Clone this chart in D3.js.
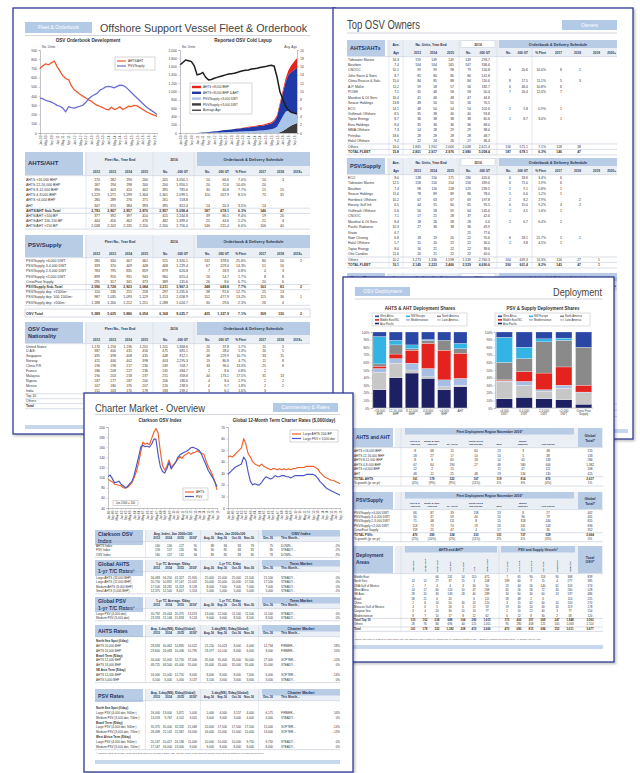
<!DOCTYPE html>
<html>
<head>
<meta charset="utf-8">
<script src="https://d3js.org/d3.v7.min.js"></script>
<style>
body { margin: 0; background: #fff; }
svg { display: block; }
</style>
</head>
<body>
<script>
// ---------- Fleet & Orderbook page ----------
var obMonths = ["Jan","Mar","May","Jul","Sep","Nov"];
var obYears = ["10","11","12","13","14","15","16"];
var obAhts = [700,730,750,740,760,780,720,670,620,590,580,510,470,445,420,400,380,360,345,320,300,290,275,260,250,280,255,265,285,255,270,290,285,300,295,275,255,235,220,205,195,180];
var obPsv = [380,370,355,345,335,320,300,290,270,230,285,275,270,280,290,300,330,370,395,415,430,465,480,500,505,500,490,505,520,515,500,470,440,410,380,350,320,290,265,245,225,200];
var layAge = [16.4,17.0,17.6,17.4,17.2,16.2,14.0,14.2,14.6,13.4,12.8,12.9,13.2,13.4,13.6,13.8,14.0,14.2,14.3,14.4,14.6,14.8,15.0,15.1,15.2,15.4,15.5,15.6,15.8,15.9,16.0,16.2,16.3,16.1,13.5,10.0,8.2,6.5,5.5,5.0,4.8,4.6];
var layPsvSmall = [0,0,0,0,0,0,0,0,0,0,0,0,0,0,0,0,0,0,0,0,0,0,0,0,0,0,0,0,0,0,0,0,0,0,0,20,50,90,140,180,210,240];
var layPsvLarge = [0,0,0,0,0,0,0,0,0,0,5,8,10,12,15,18,20,22,25,28,32,35,38,40,45,48,50,55,58,62,70,80,90,110,150,250,350,420,400,330,270,240];
var layAhtsSmall = [0,0,0,0,0,0,0,5,10,15,20,24,30,33,40,46,50,54,60,66,70,74,80,86,90,94,100,106,110,114,120,130,140,170,240,400,560,720,860,960,1040,1090];
var layAhtsLarge = [0,0,0,0,0,0,0,0,0,0,0,0,0,0,0,0,0,0,0,0,5,8,10,12,14,16,18,20,22,24,25,30,30,35,40,50,60,80,110,160,200,230];
var laySeries = ["PSV/Supply <3,000 DWT","PSV/Supply >3,000 DWT","AHTS <8,000 BHP & AHT","AHTS >8,000 BHP"];

var fleetSubs = ["2012","2013","2014","2015","No.",".000 GT","No.",".000 GT","% Fleet","2017","2018","2019+"];
var fleetAhtsRows = [
  ["AHTS >16,000 BHP","170 182 190 200 205 3,050.1 10 66.6 7.0% 10 3"],
  ["AHTS 12-16,000 BHP","187 194 198 200 200 1,950.5 20 72.6 10.0% 20"],
  ["AHTS 8-12,000 BHP","390 403 410 402 395 785.6 30 30.8 7.7% 15 15"],
  ["AHTS 4-8,000 BHP","1,219 1,271 1,299 1,304 1,301 2,099.5 110 207.9 8.5% 75 35"],
  ["AHTS <4,000 BHP","280 289 276 271 261 158.8"],
  ["AHT","347 370 384 393 395 822.4 14 20.3 3.5% 14"],
  ["AHTS/AHT Sub-Total","2,793 2,907 2,957 2,970 2,957 5,058.4 187 678.1 6.3% 146 47","b"],
  ["AHTS/AHT <100 BP","377 392 397 410 415 1,244.8 39 86.1 9.4% 19 20","l"],
  ["AHTS/AHT 100-150 BP","444 456 462 476 482 1,399.0 25 44.6 5.2% 21 4"],
  ["AHTS/AHT >150 BP","2,038 2,102 2,135 2,150 2,200 2,756.0 146 215.4 6.6% 106 40"]
];
var fleetPsvRows = [
  ["PSV/Supply >4,000 DWT","280 330 407 461 515 1,320.1 132 378.6 25.6% 80 50 2"],
  ["PSV/Supply 3-4,000 DWT","339 370 409 448 468 1,229.4 67 229.0 14.3% 51 16"],
  ["PSV/Supply 2-3,000 DWT","783 795 835 859 879 626.8 7 18.9 0.8% 4 3"],
  ["PSV/Supply <2,000 DWT","899 916 931 943 960 655.4 16 14.7 1.7% 8 8"],
  ["Crew/Fast Supply","295 317 341 373 389 135.6 26 8.6 6.7% 20 6"],
  ["PSV/Supply Sub-Total","2,596 2,728 2,923 3,084 3,211 3,967.3 248 649.8 7.7% 163 83 2","b"],
  ["PSV/Supply dep. >1500m²","110 136 215 258 297 1,235.6 38 91.6 12.7% 25 13 _","l"],
  ["PSV/Supply dep. 500-1500m²","987 1,035 1,093 1,129 1,153 2,058.9 152 477.9 13.2% 115 36 1"],
  ["PSV/Supply dep. <500m²","1,188 1,200 1,212 1,251 1,288 1,024.7 30 29.6 2.3% 26 4"]
];
var osvTotalRow = ["OSV Total","5,389 5,635 5,880 6,054 6,168 9,025.7 435 1,327.9 7.1% 309 130 2"];
var nationRows = [
  ["United States","1,170 1,194 1,196 1,201 1,201 1,868.6 20 37.8 1.7% 15 5"],
  ["U.A.E.","387 400 431 456 475 681.1 25 28.0 5.3% 20 5"],
  ["Singapore","395 398 408 435 448 812.1 48 229.9 10.7% 33 15"],
  ["Norway","411 406 402 398 403 2,295.3 19 80.8 4.7% 11 8"],
  ["China P.R.","196 198 217 230 249 558.7 33 96.0 13.3% 25 8"],
  ["France","186 208 227 236 245 484.7 2 8.6 0.8% 2"],
  ["Malaysia","190 203 218 237 251 358.8 44 173.1 17.5% 31 13"],
  ["Nigeria","187 177 187 200 206 186.6 4 8.0 1.9% 2 2"],
  ["Mexico","167 180 195 207 220 238.9 4 9.7 1.8% 2 2"],
  ["India","151 163 170 178 183 239.2 3 6.1 1.6% 3"],
  ["Top 10","3,440 3,527 3,651 3,778 3,881 7,724.0 202 677.6 5.2% 144 58","l"],
  ["Others","1,949 2,108 2,229 2,276 2,287 1,301.7 233 650.3 10.2% 165 68 2","l"],
  ["Total","5,389 5,635 5,880 6,054 6,168 9,025.7 435 1,327.9 7.1% 309 130 2","b"]
];

// ---------- Top OSV Owners page ----------
var ownerSubs = ["Age","2013","2014","2015","No.",".000 GT","No.",".000 GT","% Fleet","2017","2018","2019","2020+"];
var ownersAhtsRows = [
  ["Tidewater Marine","16.3 159 149 149 149 293.7"],
  ["Bourbon","7.4 164 164 165 167 336.6"],
  ["CNOOC","10.1 99 99 98 79 150.8 8 20.6 10.0% 8 1"],
  ["John Swire & Sons","8.7 81 80 80 80 141.8"],
  ["China Rescue & Salv.","15.0 84 85 88 84 116.6 8 17.5 11.1% 5 3"],
  ["A.P. Moller","11.2 59 58 57 56 182.7 6 46.0 10.8% 6"],
  ["POSH","7.1 45 48 58 58 50.4 7 16.4 12.0% 7"],
  ["Maridive & Oil Serv.","16.4 41 46 48 47 44.8"],
  ["Seacor Holdings","13.8 48 50 55 56 70.5"],
  ["ECO","14.1 48 50 54 54 102.6 1 5.8 0.9% 1"],
  ["Gulfmark Offshore","8.5 35 38 40 40 93.8"],
  ["Topaz Energy","8.7 36 38 38 38 60.6 1 8.7 3.0% 1"],
  ["Ezra Holdings","8.4 35 36 36 36 68.0"],
  ["MMA Offshore","7.3 14 28 29 29 38.0"],
  ["Petrofac","18.6 28 28 28 28 48.7"],
  ["Halul Offshore","9.2 22 24 26 27 36.4"],
  ["Others","16.0 1,845 1,952 2,000 2,048 2,621.4 156 571.1 7.1% 118 38","l"],
  ["TOTAL FLEET","15.8 2,801 2,917 2,976 2,980 5,058.4 187 678.1 6.3% 146 47","b"]
];
var ownersPsvRows = [
  ["ECO","8.0 138 150 171 180 420.6 6 18.6 3.4% 6"],
  ["Tidewater Marine","12.5 158 150 154 156 339.0 6 71.0 1.9% 6"],
  ["Bourbon","7.4 98 116 128 129 239.5 1 9.1 0.8% 1"],
  ["Seacor Holdings","11.6 78 89 89 86 78.0 1 6.0 1.2% 1"],
  ["Hornbeck Offshore","10.2 67 63 67 69 197.8 2 8.2 2.9% _ 2"],
  ["Harvey Gulf Intl","6.5 44 55 60 65 95.5 6 15.0 9.2% 4 2"],
  ["Gulfmark Offshore","6.6 56 58 59 64 145.6 1 4.5 1.6% 1"],
  ["CNOOC","7.1 17 21 28 37 42.6"],
  ["Maridive & Oil Serv.","8.4 18 26 28 28 6.6 2 6.7 6.4% 2"],
  ["Pacific Radiance","10.3 27 36 38 36 49.9"],
  ["Vroon","6.7 _ _ _ 25 77.6"],
  ["Nam Cheong","6.8 18 19 20 22 70.6 6 18.1 21.7% 5 1"],
  ["Halul Offshore","5.7 15 20 22 22 30.0 1 3.8 4.5% 1"],
  ["Topaz Energy","8.0 16 21 22 22 38.6"],
  ["Otto Candies","11.6 20 21 22 22 40.0"],
  ["Others","10.2 1,273 1,336 1,598 1,539 2,760.3 164 449.3 11.3% 116 27 1","l"],
  ["TOTAL FLEET","10.1 2,145 2,223 2,466 2,529 4,690.6 200 601.4 8.2% 143 47 1","b"]
];
var ownersCrewRows = [
  ["Tidewater Marine","9.1 30 32 33 33 12.5"],
  ["Bourbon","6.2 68 70 72 73 18.2"],
  ["Seacor Marine","8.4 45 47 49 50 12.6"],
  ["Edison Chouest","6.5 34 36 38 40 10.9"],
  ["CNOOC","9.7 20 22 24 26 6.0"],
  ["Halul Offshore","4.5 18 19 21 22 5.5"],
  ["Alpha Marine","7.3 14 16 18 20 4.8"],
  ["Ezra Holdings","6.1 12 14 16 17 4.3"],
  ["Nam Cheong","5.0 10 12 14 15 3.9"],
  ["Atlantic Offshore","9.9 11 11 12 13 3.1"],
  ["Otto Candies","12.0 10 11 11 12 2.9"],
  ["Hornbeck Offshore","11.1 9 10 10 11 2.8"],
  ["POSH","5.6 8 9 10 11 2.7"],
  ["ECO","8.8 9 9 10 10 2.6"],
  ["Harvey Gulf Intl","4.2 6 7 8 9 2.2"],
  ["Maridive & Oil Serv.","10.4 8 8 9 9 2.1"],
  ["Gulfmark Offshore","7.7 7 7 8 8 1.9"],
  ["Topaz Energy","6.9 6 7 7 8 1.8"],
  ["Others","9.4 110 121 133 141 35.2","l"],
  ["TOTAL FLEET","8.6 461 487 521 549 152.8","b"]
];

// ---------- Deployment page ----------
var depKeys = ["Asia Pacific","Latin America","Mediterranean","Middle East/ISC","North America","NW Europe","West Africa"];
var depColors = ["#1d2163","#c7c7c7","#a7bde3","#e5231e","#8a8a8a","#33b4e5","#2b47a5"];
var depLegend = ["West Africa","NW Europe","North America","Middle East/ISC","Mediterranean","Latin America","Asia Pacific"];
var ahtsCats = [">16,000\nBHP","12-16,000\nBHP","8-12,000\nBHP","4-8,000\nBHP","<4,000\nBHP","AHT"];
var ahtsDepAsia = [24,40,46,39,24,28];
var ahtsDepLatAm = [23,19,4,2,4,2];
var ahtsDepMed = [5,6,9,11,9,9];
var ahtsDepMidEast = [3,6,17,33,39,33];
var ahtsDepNAm = [3,12,2,4,13,6];
var ahtsDepNwEur = [36,6,5,1,0,7];
var ahtsDepWAfr = [6,11,17,10,11,15];
var psvCats = [">4,000\nDWT","3-4,000\nDWT","2-3,000\nDWT","<2,000\nDWT","Crew/ Fast\nSupply"];
var psvDepAsia = [12,14,12,11,5];
var psvDepLatAm = [23,16,10,15,15];
var psvDepMed = [1,5,2,4,1];
var psvDepMidEast = [1,13,22,24,9];
var psvDepNAm = [23,17,41,35,50];
var psvDepNwEur = [33,15,4,3,0];
var psvDepWAfr = [7,20,9,8,20];

var regionSubs = ["Gulf & N.\nAmerica","Brazil & S&C\nAmerica","W. Africa","North Sea &\nNW Europe","Med","Middle\nEast/ISC","Asia Pacific",""];
var ahtsDepRows = [
  ["AHTS >16,000 BHP","8 68 15 60 13 3 48 215"],
  ["AHTS 12-16,000 BHP","18 27 17 14 14 5 38 133"],
  ["AHTS 8-12,000 BHP","8 6 60 18 14 45 133 284"],
  ["AHTS 4-8,000 BHP","67 64 190 27 48 580 406 1,382"],
  ["AHTS <4,000 BHP","12 2 15 _ 11 47 121 208"],
  ["AHT","48 11 25 48 19 134 130 415"],
  ["TOTAL AHTS","161 178 322 167 119 814 876 2,637","b"],
  ["% growth (yr on yr)","(4%) (9%) (9%) (11%) 1% 6% (4%) 1%"]
];
var psvDepRows = [
  ["PSV/Supply >4,000 DWT","66 87 33 158 23 8 27 402"],
  ["PSV/Supply 3-4,000 DWT","56 47 59 44 20 96 79 401"],
  ["PSV/Supply 2-3,000 DWT","71 48 111 8 15 318 244 815"],
  ["PSV/Supply <2,000 DWT","118 73 74 19 26 241 143 694"],
  ["Crew/Fast Supply","159 25 47 4 17 64 36 352"],
  ["TOTAL PSVs","470 280 324 233 101 727 529 2,664","b"],
  ["% growth (yr on yr)","(2%) (10%) (2%) (11%) 2% 1% (3%) 0%"]
];
var areaSubs = [">16k BHP","12-16k BHP","8-12k BHP","4-8k BHP","<4k BHP","AHT","Total AHTS",">4k DWT","3-4k DWT","2-3k DWT","<2k DWT","Crew/Fast","Total PSV",""];
var areaRows = [
  ["Middle East","_ _ 66 241 54 110 471 7 65 90 116 90 368 839"],
  ["North Sea","14 12 27 37 15 3 108 189 60 9 15 4 277 385"],
  ["USA Gulf of Mexico","2 7 4 4 3 30 50 23 44 56 140 61 324 374"],
  ["West Africa","14 17 60 120 10 47 268 30 56 58 72 44 260 528"],
  ["SE Asia","28 20 30 143 28 40 289 34 60 30 60 13 197 486"],
  ["Brazil","58 21 6 20 _ 6 111 58 48 2 6 _ 114 225"],
  ["China","2 8 10 50 30 20 120 3 15 62 60 10 150 270"],
  ["Mexican Gulf of Mexico","4 6 5 26 6 12 59 19 30 20 30 20 119 178"],
  ["Caspian Sea","3 4 20 30 10 10 77 2 10 22 40 3 77 154"],
  ["Mediterranean","8 7 10 17 8 12 62 6 12 8 30 2 58 120"],
  ["Total Top 10","133 102 238 688 164 290 1,615 375 400 357 569 247 1,948 3,563","b"],
  ["Others","28 76 84 694 44 125 1,051 95 280 458 125 105 1,063 2,114"],
  ["Total","161 178 322 1,382 208 415 2,666 470 680 815 694 352 3,011 5,677","b"]
];

// ---------- Charter Market page ----------
var cmMonths = ["Jan","May","Sep"];
var cmYears = ["00","01","02","03","04","05","06","07","08","09","10","11","12","13","14","15","16"];
var osvIdxAhts = [97,94,92,87,86,85,84,80,79,81,85,90,100,112,128,150,170,166,168,165,177,189,197,188,152,124,115,122,135,120,125,130,136,142,138,144,146,150,146,149,150,153,150,148,146,133,122,114,104,92,76];
var osvIdxPsv = [102,105,98,90,91,93,87,84,80,83,88,93,105,122,140,160,164,161,162,160,166,176,176,145,122,112,109,118,130,117,124,130,140,145,148,150,152,155,159,160,158,156,153,145,135,125,114,107,100,92,82];
var tcAhts = [44,45,44,46,48,50,52,60,55,47,44,40,38,37,36,38,36,35,34,33,34,34,33,34,33,34,33,34,33,34,34,35,35,35,35,36,36,36,36,35,34,31,29,27,26,25,24,24,23,22,21];
var tcPsv = [29,31,33,35,36,37,38,44,41,31,23,20,21,20,20,22,25,27,26,25,26,28,27,27,28,28,27,27,26,27,28,28,28,28,28,29,29,29,29,28,26,23,21,19,17,16,15,14,13,12,11];

var rateSubs = ["2013","2014","2015","2016*","Aug-16","Sep-16","Oct-16","Nov-16","Dec-16","This Month...",""];
var idxRows = [
  ["AHTS Index","160 156 127 91 88 84 83 79 75 DOWN... -5%"],
  ["PSV Index","159 157 135 96 90 85 84 82 80 STEADY... -2%"],
  ["OSV Index","160 157 131 94 89 85 83 80 78 DOWN... -3%"]
];
var ahtsTcRows = [
  ["Large AHTS (18,000 BHP)","56,083 56,250 41,327 25,905 25,000 25,000 25,000 21,500 21,500 STEADY... 0%"],
  ["Large AHTS (12,000 BHP)","50,750 50,891 37,167 22,032 20,000 20,000 20,000 17,500 17,500 STEADY... 0%"],
  ["Medium AHTS (8,000 BHP)","17,500 18,281 11,323 8,158 8,000 7,000 7,000 7,000 7,000 STEADY... 0%"],
  ["Small AHTS (5,000 BHP)","12,375 12,500 8,417 5,553 5,000 5,000 5,000 5,000 5,000 STEADY... -1%"]
];
var psvTcRows = [
  ["Large PSV (4,000 dwt)","30,792 29,444 20,375 13,074 13,000 12,000 11,500 11,500 11,500 STEADY... 0%"],
  ["Medium PSV (3,000 dwt)","23,333 21,146 15,833 9,124 9,000 9,000 8,500 8,500 8,500 STEADY... 0%"]
];
var ahtsRateRows = [
  ["North Sea Spot (£/day)","","h"],
  ["AHTS 20,000 BHP","28,933 30,462 10,895 10,022 21,150 10,023 8,000 6,000 12,734 FIRMER... 58%"],
  ["AHTS 16,000 BHP","23,600 26,083 10,036 10,795 23,377 10,100 8,000 6,000 9,000 FIRMER... 50%"],
  ["Brazil Term ($/day)","","h"],
  ["AHTS 12,000 BHP","56,000 55,000 52,750 37,000 35,000 35,000 35,000 30,000 27,000 SOFTER... -10%"],
  ["AHTS 18,000 BHP","48,725 48,500 45,000 35,000 35,000 35,000 35,000 35,000 35,000 STEADY... 0%"],
  ["SE Asia Term ($/day)","","h"],
  ["AHTS 12,000 BHP","16,000 15,000 12,750 8,000 8,000 8,000 8,000 7,000 6,000 SOFTER... -14%"],
  ["AHTS 5,000 BHP","6,500 6,000 5,000 3,137 3,100 3,000 3,000 3,000 3,000 STEADY... 0%"]
];
var psvRateRows = [
  ["North Sea Spot (£/day)","","h"],
  ["Large PSV (4,000 dwt, 900m²)","16,000 13,000 5,871 5,000 5,000 4,000 3,157 4,000 6,175 FIRMER... 54%"],
  ["Medium PSV (3,000 dwt, 700m²)","13,019 9,767 4,102 3,041 3,000 3,000 3,000 4,000 4,000 STEADY... 0%"],
  ["Brazil Term ($/day)","","h"],
  ["Large PSV (4,000 dwt, 900m²)","35,375 35,000 32,332 21,069 20,000 17,500 17,500 17,500 15,000 SOFTER... -14%"],
  ["Medium PSV (3,000 dwt, 700m²)","28,499 25,142 22,367 16,000 16,000 15,000 15,000 15,000 13,000 SOFTER... -13%"],
  ["West Africa Term ($/day)","","h"],
  ["Large PSV (4,000 dwt, 900m²)","20,167 20,417 16,196 11,000 10,000 10,000 10,000 9,750 9,750 STEADY... 0%"],
  ["Medium PSV (3,000 dwt, 700m²)","17,167 16,000 13,000 9,000 9,000 8,000 8,000 8,000 8,000 STEADY... 0%"]
];

// ---------- drawing ----------
var FONT = "'Liberation Sans', Arial, sans-serif";
var BOX = "#b8cce6", BAND = "#eaeff6", BORDER = "#2f3a92", TAG = "#b3cae7";

var svg = d3.select("body").append("svg")
  .attr("width", 640).attr("height", 773)
  .attr("font-family", FONT);

var filt = svg.append("defs").append("filter").attr("id", "sh")
  .attr("x", "-5%").attr("y", "-5%").attr("width", "112%").attr("height", "112%");
filt.append("feDropShadow").attr("dx", 1.5).attr("dy", 1.5).attr("stdDeviation", 1.2)
  .attr("flood-color", "#000").attr("flood-opacity", 0.25);

function page(x, y, w, h) {
  var g = svg.append("g");
  g.append("rect").attr("x", x).attr("y", y).attr("width", w).attr("height", h)
    .attr("fill", "#fff").attr("stroke", BORDER).attr("stroke-width", 1.3).attr("filter", "url(#sh)");
  return g;
}

function txt(g, x, y, s, size, opt) {
  opt = opt || {};
  var t = g.append("text").attr("x", x).attr("y", y).attr("font-size", size)
    .attr("fill", opt.fill || "#333").text(s);
  if (opt.anchor) t.attr("text-anchor", opt.anchor);
  if (opt.bold) t.attr("font-weight", "bold");
  if (opt.len) t.attr("textLength", opt.len).attr("lengthAdjust", "spacingAndGlyphs");
  if (opt.rot) t.attr("transform", "rotate(" + opt.rot + "," + x + "," + y + ")");
  return t;
}

function tag(g, x, y, w, h, s) {
  g.append("rect").attr("x", x).attr("y", y).attr("width", w).attr("height", h).attr("fill", TAG);
  txt(g, x + w / 2, y + h / 2 + 1.8, s, 5, {anchor: "middle", fill: "#fff"});
}

function hline(g, x0, x1, y, c) {
  g.append("line").attr("x1", x0).attr("x2", x1).attr("y1", y).attr("y2", y)
    .attr("stroke", c || "#aab4c6").attr("stroke-width", 0.45);
}

function styleAxis(sel, fs) {
  sel.attr("font-size", fs || 3.4).attr("font-family", FONT);
  sel.select(".domain").attr("stroke", "#8a8a8a").attr("stroke-width", 0.5);
  sel.selectAll(".tick line").attr("stroke", "#8a8a8a").attr("stroke-width", 0.4);
  sel.selectAll(".tick text").attr("fill", "#444");
}
function rotTicks(sel) {
  sel.selectAll(".tick text").attr("transform", "rotate(-90)").attr("text-anchor", "end")
    .attr("x", -2.5).attr("y", 0).attr("dy", "0.35em");
}

function lines(g, x, y, dates, series, colors, w) {
  series.forEach(function(s, k) {
    g.append("path").datum(s).attr("fill", "none").attr("stroke", colors[k])
      .attr("stroke-width", w).attr("stroke-linejoin", "round")
      .attr("d", d3.line().x(function(d, i) { return x(dates[i]); }).y(function(d) { return y(d); }));
  });
}

function legendBox(g, bx, by, bw, bh, items, step) {
  g.append("rect").attr("x", bx).attr("y", by).attr("width", bw).attr("height", bh)
    .attr("fill", "#fff").attr("stroke", "#999").attr("stroke-width", 0.4);
  items.forEach(function(it, i) {
    var yy = by + 4 + i * step;
    if (it.area) {
      g.append("rect").attr("x", bx + 2).attr("y", yy - 1.2).attr("width", 9).attr("height", 2.4).attr("fill", it.color);
    } else {
      g.append("line").attr("x1", bx + 2).attr("x2", bx + 11).attr("y1", yy).attr("y2", yy)
        .attr("stroke", it.color).attr("stroke-width", 1.2);
    }
    txt(g, bx + 13, yy + 1.1, it.label, 3.1, {fill: "#333"});
  });
}

function drawTable(g, t) {
  var top = t.y, hb = t.y + t.hh;
  var fs = t.fs || 3.4;
  var lastY = t.ry + (t.rows.length - 1) * t.rh + 1.8;
  var anchorOf = function(j) { return (t.anch && t.anch[j]) || t.anchor || "end"; };
  g.append("rect").attr("x", t.x0 + t.lw + 2).attr("y", top)
    .attr("width", t.x1 - t.x0 - t.lw - 2).attr("height", t.hh).attr("fill", BAND);
  g.append("rect").attr("x", t.x0).attr("y", top).attr("width", t.lw).attr("height", t.lbh || t.hh).attr("fill", BOX);
  t.title.forEach(function(s, i) {
    txt(g, t.x0 + 3, top + t.ty + i * (t.tlh || 6.5), s, t.tfs || 5.5, {bold: true, fill: "#24335e"});
  });
  t.groups.forEach(function(gr) {
    if (gr.blue) g.append("rect").attr("x", gr.x0).attr("y", top).attr("width", gr.x1 - gr.x0).attr("height", gr.h).attr("fill", BOX);
    if (gr.white) g.append("rect").attr("x", gr.x0).attr("y", top + 0.5).attr("width", gr.x1 - gr.x0).attr("height", gr.h)
      .attr("fill", "#fff").attr("stroke", "#b5bfcf").attr("stroke-width", 0.4);
    gr.text.split("\n").forEach(function(s, i) {
      txt(g, (gr.x0 + gr.x1) / 2, top + (gr.gy || t.gy) + i * 4.5, s, gr.fs || 3.4, {anchor: "middle", bold: true, fill: "#2a3550"});
    });
  });
  t.subs.forEach(function(s, j) {
    if (!s) return;
    if (t.subRot) {
      txt(g, t.cols[j] + 1, hb - 1.2, s, t.sfs || 2.4, {bold: true, rot: -90, fill: "#2a3550"});
    } else {
      var parts = s.split("\n");
      parts.forEach(function(p, k) {
        txt(g, t.cols[j], hb - 1.8 - (parts.length - 1 - k) * 3.2, p, t.sfs || 3.1, {anchor: anchorOf(j), bold: true, fill: "#2a3550"});
      });
    }
  });
  hline(g, t.x0, t.x1, hb + 0.6);
  t.rows.forEach(function(r, i) {
    var yy = t.ry + i * t.rh, flag = r[2] || "";
    if (flag === "b" || flag === "l") hline(g, t.x0, t.x1, yy - t.rh + 1.7);
    txt(g, t.x0 + 1, yy, r[0], fs, {bold: flag === "b" || flag === "h", fill: "#333"});
    if (r[1]) r[1].split(" ").forEach(function(v, j) {
      if (v !== "_") txt(g, t.cols[j], yy, v, fs, {anchor: anchorOf(j), bold: flag === "b", fill: "#333"});
    });
  });
  hline(g, t.x0, t.x1, lastY);
  (t.vl || []).forEach(function(x) {
    g.append("line").attr("x1", x).attr("x2", x).attr("y1", top).attr("y2", lastY)
      .attr("stroke", "#c9d0dc").attr("stroke-width", 0.45);
  });
}

// ===== Page A : Offshore Support Vessel Fleet & Orderbook =====
var pA = page(13, 8, 322, 426);
tag(pA, 25, 22, 67, 11, "Fleet & Orderbook");
txt(pA, 100, 32, "Offshore Support Vessel Fleet & Orderbook", 11, {fill: "#444", len: 207});
hline(pA, 25, 310, 35.5, "#9aa3b5");
txt(pA, 88, 41.5, "OSV Orderbook Development", 4.6, {anchor: "middle", bold: true});
txt(pA, 243, 41.5, "Reported OSV Cold Layup", 4.6, {anchor: "middle", bold: true});

var obDates = [];
obYears.forEach(function(y) { obMonths.forEach(function(m) { obDates.push(m + "-" + y); }); });
var xOb = d3.scalePoint().domain(obDates).range([40, 157]);
var yOb = d3.scaleLinear().domain([0, 900]).range([133, 50]);
pA.append("g").attr("transform", "translate(40,0)")
  .call(d3.axisLeft(yOb).tickValues(d3.range(0, 901, 100)).tickSize(1.5).tickPadding(1.5))
  .call(styleAxis);
pA.append("g").attr("transform", "translate(0,133)")
  .call(d3.axisBottom(xOb).tickValues(obDates.filter(function(d, i) { return i % 2 === 0; })).tickSize(1.5))
  .call(styleAxis, 3.1).call(rotTicks);
txt(pA, 42, 47.5, "No. Units", 3.2, {fill: "#444"});
lines(pA, xOb, yOb, obDates, [obAhts, obPsv], ["#ee5a2a", "#6a6cd0"], 1.3);
legendBox(pA, 115, 57, 40, 13, [{label: "AHTS/AHT", color: "#ee5a2a"}, {label: "PSV/Supply", color: "#6a6cd0"}], 5);

var xLay = d3.scalePoint().domain(obDates).range([180, 297]);
var yLay = d3.scaleLinear().domain([0, 2000]).range([133, 50]);
var yAge = d3.scaleLinear().domain([0, 20]).range([133, 50]);
var layColors = ["#3c3c3c", "#a9c6e9", "#1f3aa8", "#e3231e"];
var layData = obDates.map(function(d, i) {
  var o = {date: d};
  o[laySeries[0]] = layPsvSmall[i]; o[laySeries[1]] = layPsvLarge[i];
  o[laySeries[2]] = layAhtsSmall[i]; o[laySeries[3]] = layAhtsLarge[i];
  return o;
});
var layStack = d3.stack().keys(laySeries)(layData);
pA.selectAll(".lay").data(layStack).join("path").attr("class", "lay")
  .attr("fill", function(d, i) { return layColors[i]; })
  .attr("d", d3.area().x(function(d) { return xLay(d.data.date); })
    .y0(function(d) { return yLay(d[0]); }).y1(function(d) { return yLay(d[1]); }));
pA.append("path").datum(layAge).attr("fill", "none").attr("stroke", "#1e1e1e").attr("stroke-width", 1.5)
  .attr("d", d3.line().x(function(d, i) { return xLay(obDates[i]); }).y(function(d) { return yAge(d); }));
pA.append("g").attr("transform", "translate(180,0)")
  .call(d3.axisLeft(yLay).tickValues(d3.range(0, 2001, 200)).tickFormat(d3.format(",")).tickSize(1.5).tickPadding(1.5))
  .call(styleAxis);
pA.append("g").attr("transform", "translate(297,0)")
  .call(d3.axisRight(yAge).tickValues(d3.range(0, 21, 2)).tickSize(1.5).tickPadding(1.5))
  .call(styleAxis);
pA.append("g").attr("transform", "translate(0,133)")
  .call(d3.axisBottom(xLay).tickValues(obDates.filter(function(d, i) { return i % 2 === 0; })).tickSize(1.5))
  .call(styleAxis, 3.1).call(rotTicks);
txt(pA, 182, 47.5, "No. Units", 3.2, {fill: "#444"});
txt(pA, 297, 47.5, "Avg. Age", 3.2, {fill: "#444", anchor: "end"});
legendBox(pA, 190, 83, 62, 31, [
  {label: "AHTS >8,000 BHP", color: layColors[3], area: true},
  {label: "AHTS <8,000 BHP & AHT", color: layColors[2], area: true},
  {label: "PSV/Supply >3,000 DWT", color: layColors[1], area: true},
  {label: "PSV/Supply <3,000 DWT", color: layColors[0], area: true},
  {label: "Average Age", color: "#1e1e1e"}
], 5.8);

var fleetCols = [100, 116, 132, 148, 168, 188, 210, 229, 246, 266, 284, 302];
var fleetGroups = function(gh) {
  return [{x0: 88, x1: 152, text: "Fleet No., Year End"}, {x0: 156, x1: 192, text: "2016"},
    {x0: 197, x1: 310, text: "Orderbook & Delivery Schedule", blue: true, h: gh, fs: 4}];
};
drawTable(pA, {x0: 25, x1: 310, lw: 58, y: 152, hh: 23, title: ["AHTS/AHT"], ty: 13, tfs: 6, gy: 9,
  groups: fleetGroups(14), subs: fleetSubs, cols: fleetCols, rows: fleetAhtsRows, ry: 180.5, rh: 5.2,
  fs: 3.5, vl: [86, 153, 194]});
drawTable(pA, {x0: 25, x1: 310, lw: 58, y: 235, hh: 22, title: ["PSV/Supply"], ty: 12, tfs: 6, gy: 8,
  groups: fleetGroups(13), subs: fleetSubs, cols: fleetCols, rows: fleetPsvRows, ry: 262, rh: 5.2,
  fs: 3.5, vl: [86, 153, 194]});
pA.append("rect").attr("x", 25).attr("y", 309).attr("width", 285).attr("height", 8)
  .attr("fill", "#fff").attr("stroke", "#aab4c6").attr("stroke-width", 0.5);
txt(pA, 26, 315, osvTotalRow[0], 3.6, {bold: true});
osvTotalRow[1].split(" ").forEach(function(v, j) { txt(pA, fleetCols[j], 315, v, 3.5, {anchor: "end", bold: true}); });
drawTable(pA, {x0: 25, x1: 310, lw: 58, y: 322, hh: 21, title: ["OSV Owner", "Nationality"], ty: 9, tlh: 7, tfs: 5.5, gy: 8,
  groups: fleetGroups(13), subs: fleetSubs, cols: fleetCols, rows: nationRows, ry: 347.5, rh: 4.95,
  fs: 3.4, vl: [86, 153, 194]});
pA.append("rect").attr("x", 25).attr("y", 425).attr("width", 285).attr("height", 4).attr("fill", "#c7d7ee");

// ===== Page B : Top OSV Owners =====
var pB = page(333, 8, 300, 431);
txt(pB, 347, 29, "Top OSV Owners", 12.5, {fill: "#444", len: 73});
tag(pB, 562, 20, 55, 10, "Owners");
hline(pB, 347, 617, 33, "#9aa3b5");
var ownerCols = [399, 421, 437, 454, 471, 490, 511, 528, 546, 562, 581, 600, 616];
var ownerGroups = [{x0: 390, x1: 402, text: "Ave."}, {x0: 405, x1: 457, text: "No. Units, Year End"},
  {x0: 461, x1: 495, text: "2016", white: true, h: 7}, {x0: 499, x1: 617, text: "Orderbook & Delivery Schedule", blue: true, h: 8, fs: 3.9}];
drawTable(pB, {x0: 347, x1: 617, lw: 38, y: 40, hh: 16, title: ["AHTS/AHTs"], ty: 10, tfs: 5.5, gy: 5.5,
  groups: ownerGroups, subs: ownerSubs, cols: ownerCols, rows: ownersAhtsRows, ry: 60.5, rh: 5.45,
  fs: 3.4, vl: [389, 403, 459, 497, 532]});
drawTable(pB, {x0: 347, x1: 617, lw: 38, y: 158, hh: 16, title: ["PSV/Supply"], ty: 10, tfs: 5.5, gy: 5.5,
  groups: ownerGroups, subs: ownerSubs, cols: ownerCols, rows: ownersPsvRows, ry: 179, rh: 5.45,
  fs: 3.4, vl: [389, 403, 459, 497, 532]});
drawTable(pB, {x0: 347, x1: 617, lw: 38, y: 273, hh: 16, title: ["Crew/Fast", "Supply"], ty: 7, tlh: 6, tfs: 5, gy: 5.5,
  groups: ownerGroups, subs: ownerSubs, cols: ownerCols, rows: ownersCrewRows, ry: 295, rh: 6.3,
  fs: 3.4, vl: [389, 403, 459, 497, 532]});
pB.append("rect").attr("x", 347).attr("y", 429).attr("width", 281).attr("height", 4).attr("fill", "#c7d7ee");

// ===== Page C : Deployment =====
var pC = page(343, 277, 271, 385);
tag(pC, 355, 287, 55, 9, "OSV Deployment");
txt(pC, 602, 296, "Deployment", 11.5, {fill: "#444", anchor: "end", len: 49});
hline(pC, 355, 603, 299, "#9aa3b5");
txt(pC, 420, 309.5, "AHTS & AHT Deployment Shares", 4.5, {anchor: "middle", bold: true});
txt(pC, 543, 309.5, "PSV & Supply Deployment Shares", 4.5, {anchor: "middle", bold: true});

function shareLegend(g, bx, by) {
  g.append("rect").attr("x", bx).attr("y", by).attr("width", 95).attr("height", 13)
    .attr("fill", "#fff").attr("stroke", "#aaa").attr("stroke-width", 0.4);
  depLegend.forEach(function(k, i) {
    var cx = bx + 3 + (i % 3) * 31, cy = by + 3.5 + Math.floor(i / 3) * 3.6;
    g.append("rect").attr("x", cx).attr("y", cy - 1).attr("width", 4).attr("height", 1.6)
      .attr("fill", depColors[depKeys.indexOf(k)]);
    txt(g, cx + 5, cy + 0.9, k, 2.7, {fill: "#333"});
  });
}
function shareChart(g, cats, series, x0, x1, y0, y1) {
  var data = cats.map(function(c, i) {
    var o = {cat: c};
    depKeys.forEach(function(k, j) { o[k] = series[j][i]; });
    return o;
  });
  var x = d3.scaleBand().domain(cats).range([x0, x1]).paddingInner(0.18).paddingOuter(0.06);
  var y = d3.scaleLinear().domain([0, 100]).range([y1, y0]);
  g.append("g").selectAll("g").data(d3.stack().keys(depKeys)(data)).join("g")
    .attr("fill", function(d, i) { return depColors[i]; })
    .selectAll("rect").data(function(d) { return d; }).join("rect")
    .attr("x", function(d) { return x(d.data.cat); }).attr("y", function(d) { return y(d[1]); })
    .attr("width", x.bandwidth()).attr("height", function(d) { return y(d[0]) - y(d[1]); })
    .attr("stroke", "#fff").attr("stroke-width", 0.25);
  g.append("g").attr("transform", "translate(" + x0 + ",0)")
    .call(d3.axisLeft(y).tickValues(d3.range(0, 101, 10)).tickFormat(function(d) { return d + "%"; }).tickSize(1.2).tickPadding(1.2))
    .call(styleAxis, 3.1);
  hline(g, x0, x1, y1, "#8a8a8a");
  cats.forEach(function(c) {
    c.split("\n").forEach(function(s, k) {
      txt(g, x(c) + x.bandwidth() / 2, y1 + 4 + k * 3.4, s, 3, {anchor: "middle", fill: "#444"});
    });
  });
}
shareLegend(pC, 372, 313);
shareLegend(pC, 495, 313);
shareChart(pC, ahtsCats, [ahtsDepAsia, ahtsDepLatAm, ahtsDepMed, ahtsDepMidEast, ahtsDepNAm, ahtsDepNwEur, ahtsDepWAfr], 372, 468, 332, 408);
shareChart(pC, psvCats, [psvDepAsia, psvDepLatAm, psvDepMed, psvDepMidEast, psvDepNAm, psvDepNwEur, psvDepWAfr], 495, 593, 332, 408);

var regionCols = [415, 432, 452, 476, 499, 523, 548, 590];
var regionGroups = function(h) {
  return [{x0: 405, x1: 574, text: "Fleet Deployment Region November 2016*", blue: true, h: 6.5, gy: 5, fs: 3.3},
    {x0: 578, x1: 602, text: "Global\nTotal*", blue: true, h: h, gy: h / 2 - 0.5, fs: 3.6}];
};
drawTable(pC, {x0: 353, x1: 603, lw: 40, y: 428, hh: 19, title: ["AHTS and AHT"], ty: 11, tfs: 4.8,
  groups: regionGroups(19), subs: regionSubs, sfs: 2.5, cols: regionCols, anchor: "middle",
  rows: ahtsDepRows, ry: 452, rh: 4.6, fs: 3.1, vl: [401]});
drawTable(pC, {x0: 353, x1: 603, lw: 40, y: 492, hh: 17, title: ["PSV/Supply"], ty: 10, tfs: 4.8,
  groups: regionGroups(17), subs: regionSubs, sfs: 2.5, cols: regionCols, anchor: "middle",
  rows: psvDepRows, ry: 513.5, rh: 4.4, fs: 3.1, vl: [401]});
drawTable(pC, {x0: 353, x1: 603, lw: 40, y: 546, hh: 27, title: ["Deployment", "Areas"], ty: 11, tlh: 6.5, tfs: 4.8,
  groups: [{x0: 405, x1: 497, text: "AHTS and AHT*", blue: true, h: 6.5, gy: 5, fs: 3.3},
    {x0: 501, x1: 575, text: "PSV and Supply Vessels*", blue: true, h: 6.5, gy: 5, fs: 3.3},
    {x0: 578, x1: 602, text: "Total\nOSV*", blue: true, h: 27, gy: 12.5, fs: 3.6}],
  subs: areaSubs, subRot: true, sfs: 2.4,
  cols: [413, 425, 437, 450, 463, 474, 487, 507, 519, 531, 543, 557, 570, 590], anchor: "middle",
  rows: areaRows, ry: 578, rh: 4.3, fs: 2.9, vl: [401, 499]});
txt(pC, 355, 640, "Notes: The sum of vessels in each region may not equal the total number of vessels due to vessels in transit or idle. * Ships on location November 2016; % growth year on year.", 2.4, {fill: "#555"});
pC.append("rect").attr("x", 353).attr("y", 645).attr("width", 250).attr("height", 4).attr("fill", "#c7d7ee");

// ===== Page D : Charter Market - Overview =====
var pD = page(84, 393, 269, 379);
txt(pD, 95, 412, "Charter Market - Overview", 11, {fill: "#444", len: 110});
tag(pD, 273, 403, 65, 9, "Commentary & Rates");
hline(pD, 95, 340, 414.5, "#9aa3b5");
txt(pD, 160, 421.5, "Clarkson OSV Index", 4.5, {anchor: "middle", bold: true});
txt(pD, 284, 421.5, "Global 12-Month Term Charter Rates ($,000/day)", 4.5, {anchor: "middle", bold: true});

var cmDates = [];
cmYears.forEach(function(y) { cmMonths.forEach(function(m) { cmDates.push(m + "-" + y); }); });
var evenCm = cmDates.filter(function(d, i) { return i % 2 === 0; });
var xIdx = d3.scalePoint().domain(cmDates).range([108, 217]);
var yIdx = d3.scaleLinear().domain([40, 200]).range([508, 427]);
pD.append("g").attr("transform", "translate(108,0)")
  .call(d3.axisLeft(yIdx).tickValues(d3.range(40, 201, 20)).tickSize(1.5).tickPadding(1.5)).call(styleAxis);
pD.append("g").attr("transform", "translate(0,508)")
  .call(d3.axisBottom(xIdx).tickValues(evenCm).tickSize(1.5)).call(styleAxis, 3).call(rotTicks);
lines(pD, xIdx, yIdx, cmDates, [osvIdxAhts, osvIdxPsv], ["#f0612c", "#4d55c2"], 1.15);
legendBox(pD, 183, 488, 25, 12, [{label: "AHTS", color: "#f0612c"}, {label: "PSV", color: "#4d55c2"}], 4.5);
pD.append("rect").attr("x", 113).attr("y", 500.5).attr("width", 25).attr("height", 5)
  .attr("fill", "#fff").attr("stroke", "#999").attr("stroke-width", 0.4);
txt(pD, 125.5, 504, "Jan 2000 = 100", 2.8, {anchor: "middle"});

var xTc = d3.scalePoint().domain(cmDates).range([228, 340]);
var yTc = d3.scaleLinear().domain([0, 70]).range([508, 427]);
pD.append("g").attr("transform", "translate(228,0)")
  .call(d3.axisLeft(yTc).tickValues(d3.range(0, 71, 10)).tickSize(1.5).tickPadding(1.5)).call(styleAxis);
pD.append("g").attr("transform", "translate(0,508)")
  .call(d3.axisBottom(xTc).tickValues(evenCm).tickSize(1.5)).call(styleAxis, 3).call(rotTicks);
lines(pD, xTc, yTc, cmDates, [tcAhts, tcPsv], ["#f0612c", "#4d55c2"], 1.15);
legendBox(pD, 290, 430, 48, 12, [{label: "Large AHTS 200t BP", color: "#f0612c"}, {label: "Large PSV > 3,000 dwt", color: "#4d55c2"}], 4.5);

var rateCols = [160, 172, 184, 197, 214, 227, 241, 254, 273, 281, 340];
var rateAnch = [null, null, null, null, null, null, null, null, null, "start", null];
var rateGroups = function(a, b, c) {
  return [{x0: 147, x1: 199, text: a, gy: 4.6, fs: 3.2}, {x0: 203, x1: 257, text: b, gy: 4.6, fs: 3.2},
    {x0: 262, x1: 340, text: c, blue: true, h: 6.5, gy: 5, fs: 3.8}];
};
var rateBase = {x0: 95, x1: 340, lw: 48, hh: 11, tfs: 5.2, tlh: 6.5, subs: rateSubs, cols: rateCols,
  anch: rateAnch, sfs: 3, fs: 3.0, vl: [145.5, 200.5, 258.5]};
function rateTable(extra) { drawTable(pD, Object.assign({}, rateBase, extra)); }
rateTable({y: 530, lbh: 15, title: ["Clarkson OSV", "Index"], ty: 6,
  groups: rateGroups("Avg. Index, Jan 2000=100", "Index, Jan 2000=100", "OSV Index"),
  rows: idxRows, ry: 547, rh: 4.3});
rateTable({y: 560, lbh: 16, title: ["Global AHTS", "1-yr T/C Rates¹"], ty: 6,
  groups: rateGroups("1-yr TC Average, $/day", "1-yr T/C, $/day", "Term Market"),
  rows: ahtsTcRows, ry: 578.5, rh: 4.5});
rateTable({y: 597, lbh: 15, title: ["Global PSV", "1-yr T/C Rates¹"], ty: 6,
  groups: rateGroups("1-yr TC Average, $/day", "1-yr T/C, $/day", "Term Market"),
  rows: psvTcRows, ry: 614.5, rh: 4.5});
rateTable({y: 625, lbh: 12, title: ["AHTS Rates"], ty: 8,
  groups: rateGroups("Avg. 3-day(NS), $/day(Global)", "3-day(NS), $/day(Global)", "Charter Market"),
  rows: ahtsRateRows, ry: 642, rh: 4.85});
rateTable({y: 689, lbh: 13, title: ["PSV Rates"], ty: 8.5,
  groups: rateGroups("Avg. 3-day(NS), $/day(Global)", "3-day(NS), $/day(Global)", "Charter Market"),
  rows: psvRateRows, ry: 709, rh: 4.85});
txt(pD, 96, 754, "¹ Indicative rates as at date; North Sea spot rates are averages, Brazil, SE Asia and West Africa rates are quoted term rates, weighted by reported deployment.", 2.4, {fill: "#555"});
pD.append("rect").attr("x", 95).attr("y", 760).attr("width", 245).attr("height", 4).attr("fill", "#c7d7ee");
</script>
</body>
</html>
